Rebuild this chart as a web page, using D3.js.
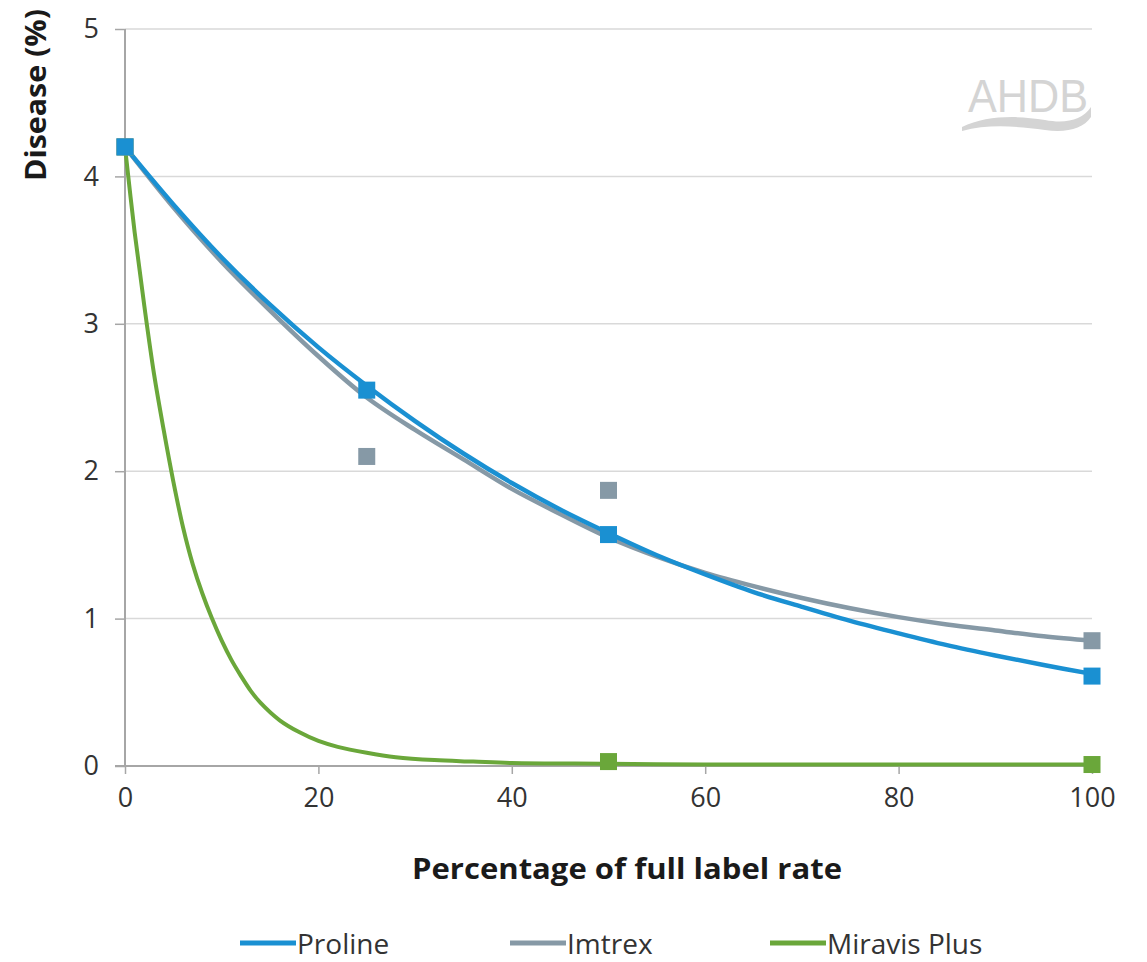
<!DOCTYPE html>
<html>
<head>
<meta charset="utf-8">
<script src="https://cdn.jsdelivr.net/npm/d3@7/dist/d3.min.js"></script>
<style>
  html, body { margin: 0; padding: 0; background: #ffffff; }
  svg { display: block; }
</style>
</head>
<body>
<svg id="chart" width="1147" height="962"></svg>
<script>
// ---------- data ----------
const seriesNames = ["Proline", "Imtrex", "Miravis Plus"];
const xTicks = [0, 20, 40, 60, 80, 100];
const yTicks = [0, 1, 2, 3, 4, 5];

// observed points (rate %, disease %)
const prolineX = [0, 25, 50, 100];
const prolineY = [4.2, 2.55, 1.57, 0.61];
const imtrexX = [0, 25, 50, 100];
const imtrexY = [4.2, 2.10, 1.87, 0.85];
const miravisX = [0, 50, 100];
const miravisY = [4.2, 0.03, 0.01];

// fitted curves
const fitX = [0, 5, 10, 15, 20, 25, 30, 35, 40, 45, 50, 55, 60, 65, 70, 75, 80, 85, 90, 95, 100];
const prolineFit = [4.20, 3.81, 3.45, 3.13, 2.84, 2.58, 2.34, 2.12, 1.92, 1.74, 1.58, 1.43, 1.30, 1.18, 1.08, 0.985, 0.90, 0.82, 0.75, 0.685, 0.625];
const imtrexFit  = [4.20, 3.79, 3.42, 3.09, 2.78, 2.50, 2.28, 2.08, 1.88, 1.71, 1.55, 1.42, 1.31, 1.22, 1.14, 1.07, 1.01, 0.96, 0.92, 0.88, 0.85];
const miravisFitX = [0, 1, 2, 3, 4, 5, 6, 7, 8, 9, 10, 11, 12, 13, 14, 16, 18, 20, 22, 25, 28, 32, 36, 40, 50, 60, 70, 80, 90, 100];
const miravisFit  = [4.20, 3.62, 3.12, 2.66, 2.28, 1.93, 1.62, 1.37, 1.17, 1.00, 0.85, 0.72, 0.61, 0.51, 0.43, 0.31, 0.23, 0.17, 0.13, 0.09, 0.06, 0.04, 0.03, 0.02, 0.015, 0.01, 0.01, 0.01, 0.01, 0.01];

const colors = { "Proline": "#1a90d2", "Imtrex": "#8699a6", "Miravis Plus": "#6aa73a" };

// ---------- layout ----------
const svg = d3.select("#chart");
const W = 1147, H = 962;
const plotLeft = 125, plotRight = 1092, plotTop = 29, plotBottom = 766;
const FONT = "'Open Sans', 'DejaVu Sans', sans-serif";

svg.append("rect").attr("width", W).attr("height", H).attr("fill", "#ffffff");

const x = d3.scaleLinear().domain([0, 100]).range([plotLeft, plotRight]);
const y = d3.scaleLinear().domain([0, 5]).range([plotBottom, plotTop]);

// gridlines
svg.append("g")
  .selectAll("line")
  .data(yTicks.filter(d => d > 0))
  .join("line")
  .attr("x1", plotLeft).attr("x2", plotRight)
  .attr("y1", d => y(d)).attr("y2", d => y(d))
  .attr("stroke", "#d9d9d9").attr("stroke-width", 1.5);

// AHDB watermark logo
const logo = svg.append("g");
logo.append("text")
  .attr("x", 968).attr("y", 112)
  .attr("font-family", "'Liberation Sans', Arial, sans-serif")
  .attr("font-size", 47)
  .attr("textLength", 120).attr("lengthAdjust", "spacingAndGlyphs")
  .attr("fill", "#d4d4d4")
  .text("AHDB");
logo.append("path")
  .attr("d", "M962,127 C985,116 1015,115 1045,120 C1066,124 1082,120 1091,107 L1091,117 C1083,129 1066,133 1045,130 C1015,126 988,124 962,131 Z")
  .attr("fill", "#d4d4d4");

// axes
const xAxis = d3.axisBottom(x).tickValues(xTicks).tickSize(8).tickPadding(14).tickFormat(d3.format("d"));
const yAxis = d3.axisLeft(y).tickValues(yTicks).tickSize(10).tickPadding(16).tickFormat(d3.format("d"));

const gx = svg.append("g").attr("transform", `translate(0,${plotBottom})`).call(xAxis);
const gy = svg.append("g").attr("transform", `translate(${plotLeft},0)`).call(yAxis);

[gx, gy].forEach(g => {
  g.select(".domain").attr("stroke", "#a6a6a6").attr("stroke-width", 2);
  g.selectAll(".tick line").attr("stroke", "#a6a6a6").attr("stroke-width", 1.5);
  g.selectAll(".tick text")
    .attr("font-family", FONT).attr("font-size", 27).attr("fill", "#333333");
});
gx.select(".domain").attr("d", `M${plotLeft - 10},0H${plotRight}`);
gy.select(".domain").attr("d", `M0,${plotTop}V${plotBottom}`);

// axis titles
svg.append("text")
  .attr("x", 627).attr("y", 879)
  .attr("text-anchor", "middle")
  .attr("font-family", FONT).attr("font-weight", "bold").attr("font-size", 28)
  .attr("textLength", 430).attr("lengthAdjust", "spacingAndGlyphs")
  .attr("fill", "#1a1a1a")
  .text("Percentage of full label rate");

svg.append("text")
  .attr("transform", `translate(46,95) rotate(-90)`)
  .attr("text-anchor", "middle")
  .attr("font-family", FONT).attr("font-weight", "bold").attr("font-size", 28)
  .attr("textLength", 172).attr("lengthAdjust", "spacingAndGlyphs")
  .attr("fill", "#1a1a1a")
  .text("Disease (%)");

// curves
const line = d3.line().x(d => x(d[0])).y(d => y(d[1])).curve(d3.curveCatmullRom.alpha(0.5));
const curves = [
  { name: "Imtrex", pts: d3.zip(fitX, imtrexFit), w: 4.5 },
  { name: "Proline", pts: d3.zip(fitX, prolineFit), w: 4.5 },
  { name: "Miravis Plus", pts: d3.zip(miravisFitX, miravisFit), w: 4 }
];
svg.append("g").selectAll("path")
  .data(curves)
  .join("path")
  .attr("d", d => line(d.pts))
  .attr("fill", "none")
  .attr("stroke", d => colors[d.name])
  .attr("stroke-width", d => d.w)
  .attr("stroke-linecap", "round");

// markers
const M = 17;
const pointSets = [
  { name: "Miravis Plus", pts: d3.zip(miravisX, miravisY) },
  { name: "Imtrex", pts: d3.zip(imtrexX, imtrexY) },
  { name: "Proline", pts: d3.zip(prolineX, prolineY) }
];
pointSets.forEach(s => {
  svg.append("g").selectAll("rect")
    .data(s.pts)
    .join("rect")
    .attr("x", d => x(d[0]) - M / 2)
    .attr("y", d => y(d[1]) - M / 2)
    .attr("width", M).attr("height", M)
    .attr("fill", colors[s.name]);
});

// legend
const legendX = [240, 510, 770];
const lg = svg.append("g");
seriesNames.forEach((name, i) => {
  const g = lg.append("g").attr("transform", `translate(${legendX[i]},943)`);
  g.append("line")
    .attr("x1", 0).attr("x2", 56).attr("y1", 0).attr("y2", 0)
    .attr("stroke", colors[name]).attr("stroke-width", 5);
  g.append("text")
    .attr("x", 57).attr("y", 11)
    .attr("font-family", FONT).attr("font-size", 28)
    .attr("fill", "#333333")
    .text(name);
});
</script>
</body>
</html>
